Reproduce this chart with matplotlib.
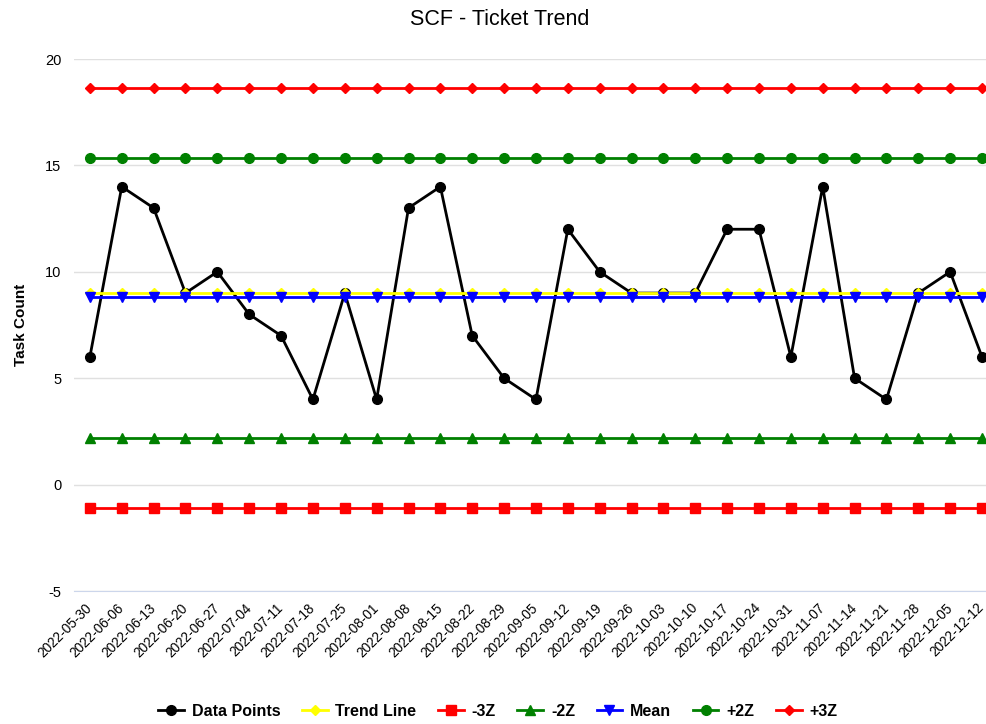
import pandas as pd
import matplotlib.pyplot as plt
import matplotlib.transforms as mtransforms

plt.rcParams['font.family'] = ['Liberation Sans', 'DejaVu Sans']
plt.rcParams['axes.unicode_minus'] = False

# weekly dates
dates = ["2022-05-30", "2022-06-06", "2022-06-13", "2022-06-20", "2022-06-27",
         "2022-07-04", "2022-07-11", "2022-07-18", "2022-07-25", "2022-08-01",
         "2022-08-08", "2022-08-15", "2022-08-22", "2022-08-29", "2022-09-05",
         "2022-09-12", "2022-09-19", "2022-09-26", "2022-10-03", "2022-10-10",
         "2022-10-17", "2022-10-24", "2022-10-31", "2022-11-07", "2022-11-14",
         "2022-11-21", "2022-11-28", "2022-12-05", "2022-12-12"]

data_points = [6, 14, 13, 9, 10, 8, 7, 4, 9, 4, 13, 14, 7, 5, 4,
               12, 10, 9, 9, 9, 12, 12, 6, 14, 5, 4, 9, 10, 6]

# control lines (flat)
trend_line = [9.0] * len(dates)
minus_3z = [-1.11] * len(dates)
minus_2z = [2.18] * len(dates)
mean_line = [8.8] * len(dates)
plus_2z = [15.34] * len(dates)
plus_3z = [18.63] * len(dates)

df = pd.DataFrame({
    'Data Points': data_points,
    'Trend Line': trend_line,
    '-3Z': minus_3z,
    '-2Z': minus_2z,
    'Mean': mean_line,
    '+2Z': plus_2z,
    '+3Z': plus_3z,
}, index=dates)

styles = {
    'Data Points': ('black', 'o', 7),
    'Trend Line': ('#ffff00', 'D', 5),
    '-3Z': ('#ff0000', 's', 7),
    '-2Z': ('#008000', '^', 7),
    'Mean': ('#0000ff', 'v', 7),
    '+2Z': ('#008000', 'o', 7),
    '+3Z': ('#ff0000', 'D', 5),
}

fig = plt.figure(figsize=(9.86, 7.24), dpi=100)
ax = fig.add_axes([0.075, 0.1837, 0.925, 0.7348])

x = list(range(len(dates)))
for col in df.columns:
    color, marker, ms = styles[col]
    ax.plot(x, df[col], color=color, marker=marker, markersize=ms,
            linewidth=2, label=col, clip_on=False)

ax.set_xlim(-0.5, len(dates) - 1 + 0.125)
ax.set_ylim(-5, 20)
ax.set_yticks([-5, 0, 5, 10, 15, 20])
ax.set_xticks(x)
ax.set_xticklabels(dates, rotation=45, ha='right', rotation_mode='anchor', fontsize=9.8)
ax.tick_params(axis='y', length=0, pad=9, labelsize=10.5)
ax.tick_params(axis='x', length=0, pad=7)
# nudge the rotated labels a little left so the last one fits
shift = mtransforms.ScaledTranslation(-5 / 100, 0, fig.dpi_scale_trans)
for lab in ax.get_xticklabels():
    lab.set_transform(lab.get_transform() + shift)

ax.grid(axis='y', color='#e0e0e0', linewidth=1)
ax.set_axisbelow(True)
for s in ['top', 'right', 'left']:
    ax.spines[s].set_visible(False)
ax.spines['bottom'].set_color('#ccd6eb')

ax.set_ylabel("Task Count", fontsize=11, fontweight='bold', labelpad=12)
fig.suptitle("SCF - Ticket Trend", x=0.507, y=0.987, fontsize=15.5)

leg = fig.legend(loc='lower center', bbox_to_anchor=(0.505, -0.013), ncol=7,
                 frameon=False, prop={'weight': 'bold', 'size': 11.5},
                 handlelength=1.6, columnspacing=1.35, handletextpad=0.5)

fig.savefig("out.png", dpi=100)
